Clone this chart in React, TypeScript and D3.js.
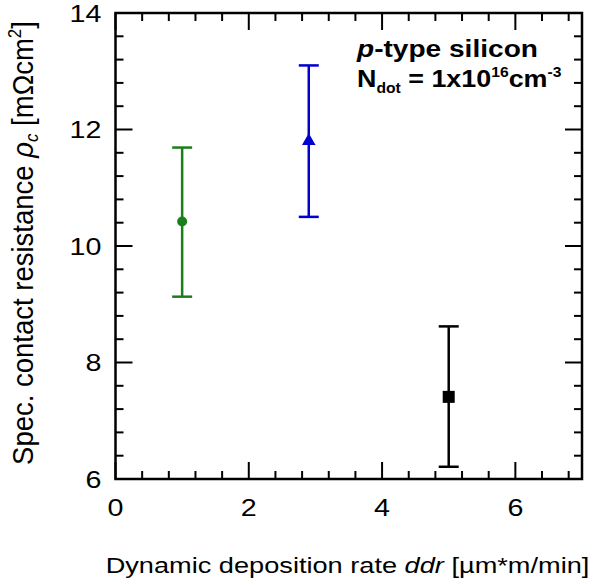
import React from "react";
import * as d3 from "d3";

const xValues = [1, 2.9, 5];
const yValues = [10.42, 11.8, 7.41];
const yLow = [9.13, 10.5, 6.21];
const yHigh = [11.69, 13.1, 8.62];
const colors = ["#1a7f1a", "#0000d0", "#000000"];
const markers = ["circle", "triangle", "square"];
const xTicks = [0, 2, 4, 6];
const yTicks = [6, 8, 10, 12, 14];

const W = 595;
const H = 585;
const margin = { left: 115.5, right: 13, top: 13, bottom: 106 };
const SX = 1.22;

export default function App() {
  const x = d3.scaleLinear().domain([0, 7]).range([margin.left, W - margin.right]);
  const y = d3.scaleLinear().domain([6, 14]).range([H - margin.bottom, margin.top]);
  const x0 = x(0), x1 = x(7), y0 = y(6), y1 = y(14);
  const xMinor = d3.range(0, 7.0001, 0.4).filter((v) => Math.abs(v / 2 - Math.round(v / 2)) > 1e-6 && v < 7);
  const yMinor = d3.range(6, 14.0001, 0.4).filter((v) => Math.abs(v / 2 - Math.round(v / 2)) > 1e-6 && v < 14);
  const font = "'Liberation Sans', Arial, sans-serif";
  const minorLen = 8, majorLen = 17;
  const tri = d3.symbol().type(d3.symbolTriangle).size(80)();
  return (
    <svg width={W} height={H} style={{ position: "absolute", left: 0, top: 0, background: "#fff" }} fontFamily={font}>
      <rect x={0} y={0} width={W} height={H} fill="#fff" />
      <g stroke="#000" strokeWidth={2}>
        {xTicks.map((v) => (
          <g key={"xt" + v}>
            <line x1={x(v)} x2={x(v)} y1={y0} y2={y0 - majorLen} />
            <line x1={x(v)} x2={x(v)} y1={y1} y2={y1 + majorLen} />
          </g>
        ))}
        {xMinor.map((v) => (
          <g key={"xm" + v}>
            <line x1={x(v)} x2={x(v)} y1={y0} y2={y0 - minorLen} />
            <line x1={x(v)} x2={x(v)} y1={y1} y2={y1 + minorLen} />
          </g>
        ))}
        {yTicks.map((v) => (
          <g key={"yt" + v}>
            <line x1={x0} x2={x0 + majorLen} y1={y(v)} y2={y(v)} />
            <line x1={x1} x2={x1 - majorLen} y1={y(v)} y2={y(v)} />
          </g>
        ))}
        {yMinor.map((v) => (
          <g key={"ym" + v}>
            <line x1={x0} x2={x0 + minorLen} y1={y(v)} y2={y(v)} />
            <line x1={x1} x2={x1 - minorLen} y1={y(v)} y2={y(v)} />
          </g>
        ))}
      </g>
      <rect x={x0} y={y1} width={x1 - x0} height={y0 - y1} fill="none" stroke="#000" strokeWidth={2.5} />
      {xTicks.map((v) => (
        <text key={"xl" + v} transform={`translate(${x(v)},${y0 + 37}) scale(${SX},1)`} textAnchor="middle" fontSize={23.5} fill="#000">
          {v}
        </text>
      ))}
      {yTicks.map((v) => (
        <text key={"yl" + v} transform={`translate(${x0 - 14},${y(v) + 8.5}) scale(${SX},1)`} textAnchor="end" fontSize={23.5} fill="#000">
          {v}
        </text>
      ))}
      {xValues.map((xv, i) => {
        const cx = x(xv);
        return (
          <g key={"e" + i} stroke={colors[i]} strokeWidth={2.5} fill={colors[i]}>
            <line x1={cx} x2={cx} y1={y(yLow[i])} y2={y(yHigh[i])} />
            <line x1={cx - 10} x2={cx + 10} y1={y(yLow[i])} y2={y(yLow[i])} />
            <line x1={cx - 10} x2={cx + 10} y1={y(yHigh[i])} y2={y(yHigh[i])} />
            {markers[i] === "circle" && <circle cx={cx} cy={y(yValues[i])} r={5} stroke="none" />}
            {markers[i] === "square" && (
              <rect x={cx - 6} y={y(yValues[i]) - 6} width={12} height={12} stroke="none" />
            )}
            {markers[i] === "triangle" && (
              <path d={tri as string} transform={`translate(${cx},${y(yValues[i])})`} stroke="none" />
            )}
          </g>
        );
      })}
      <text transform={`translate(357,57) scale(1.17,1)`} fontSize={24} fontWeight="bold" fill="#000">
        <tspan fontStyle="italic">p</tspan>-type silicon
      </text>
      <text transform={`translate(357,87) scale(1.12,1)`} fontSize={24} fontWeight="bold" fill="#000">
        N<tspan fontSize={14} dy={6}>dot</tspan>
        <tspan dy={-6}> = 1x10</tspan>
        <tspan fontSize={14} dy={-10}>16</tspan>
        <tspan dy={10}>cm</tspan>
        <tspan fontSize={14} dy={-10}>-3</tspan>
      </text>
      <text transform={`translate(347.5,573) scale(1.235,1)`} textAnchor="middle" fontSize={22} fill="#000">
        Dynamic deposition rate <tspan fontStyle="italic">ddr</tspan> [µm*m/min]
      </text>
      <text transform={`translate(33,243) rotate(-90) scale(1,1.05)`} textAnchor="middle" fontSize={27.5} fill="#000">
        Spec. contact resistance <tspan fontStyle="italic">ρ</tspan>
        <tspan fontStyle="italic" fontSize={17} dy={5}>c</tspan>
        <tspan dy={-5}> [mΩcm</tspan>
        <tspan fontSize={17} dy={-11}>2</tspan>
        <tspan dy={11}>]</tspan>
      </text>
    </svg>
  );
}
